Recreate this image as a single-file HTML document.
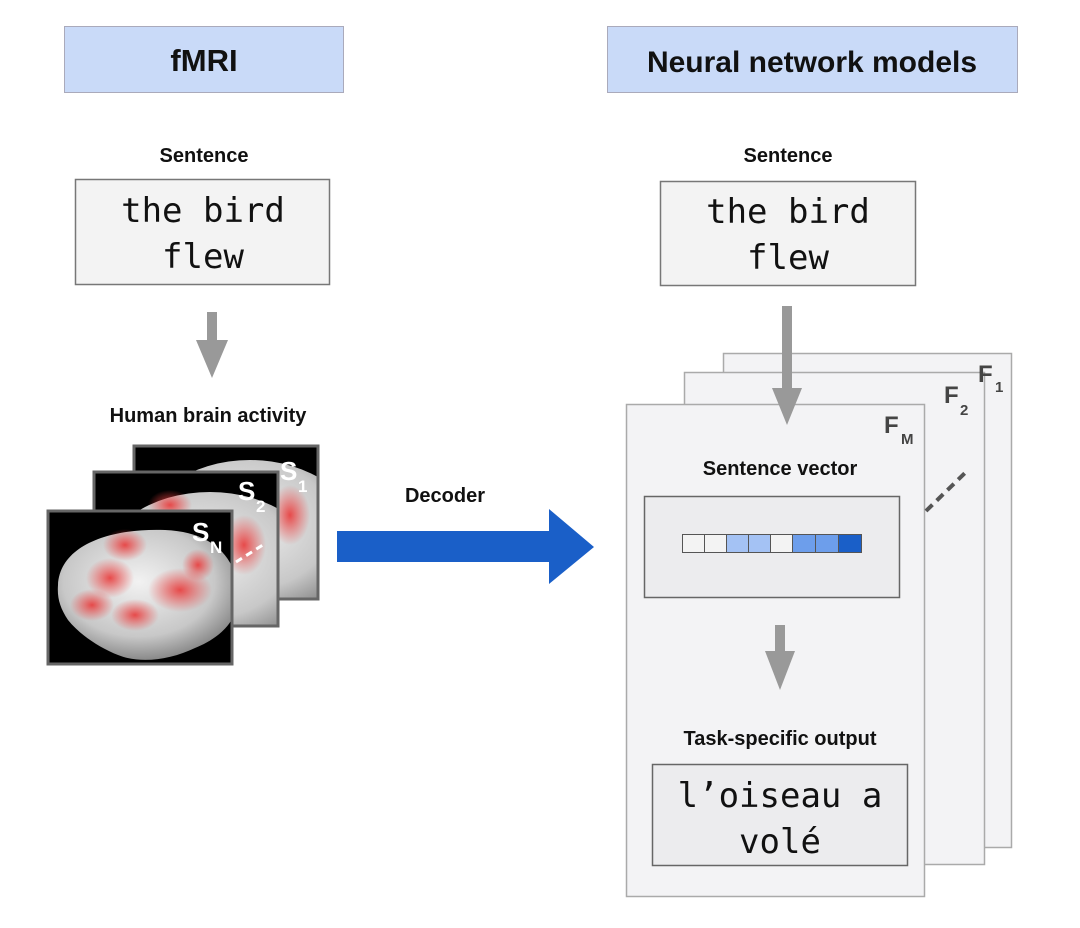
<!DOCTYPE html>
<html><head><meta charset="utf-8"><style>
html,body{margin:0;padding:0;background:#fff;width:1080px;height:928px;overflow:hidden}
svg{display:block}
.b{font-family:"Liberation Sans",sans-serif;font-weight:bold;fill:#111}
.m{font-family:"DejaVu Sans Mono","Liberation Mono",monospace;fill:#111}
</style></head><body>
<svg width="1080" height="928" viewBox="0 0 1080 928" xmlns="http://www.w3.org/2000/svg">
<defs>
<radialGradient id="br" cx="45%" cy="40%" r="60%"><stop offset="0" stop-color="#f2f2f2"/><stop offset="0.7" stop-color="#c8c8c8"/><stop offset="1" stop-color="#8a8a8a"/></radialGradient>
<radialGradient id="rd"><stop offset="0" stop-color="#e83a3a" stop-opacity="0.9"/><stop offset="1" stop-color="#ee4444" stop-opacity="0"/></radialGradient>
<clipPath id="c1"><rect x="134" y="446" width="184" height="153"/></clipPath>
<clipPath id="c2"><rect x="94" y="472" width="184" height="154"/></clipPath>
<clipPath id="c3"><rect x="48" y="511" width="184" height="153"/></clipPath>
</defs>
<rect x="64.5" y="26.5" width="279" height="66" fill="#c9daf8" stroke="#aab" />
<text x="204" y="71" text-anchor="middle" class="b" font-size="31">fMRI</text>
<rect x="607.5" y="26.5" width="410" height="66" fill="#c9daf8" stroke="#aab" />
<text x="812" y="72" text-anchor="middle" class="b" font-size="30">Neural network models</text>
<text x="204" y="162" text-anchor="middle" class="b" font-size="20">Sentence</text>
<rect x="75.5" y="179.5" width="254" height="105" fill="#f3f3f3" stroke="#777" stroke-width="1.5"/>
<text x="203" y="222" text-anchor="middle" class="m" font-size="34">the bird</text>
<text x="203" y="268" text-anchor="middle" class="m" font-size="34">flew</text>
<rect x="207" y="312" width="10" height="30" fill="#999"/>
<polygon points="196,340 228,340 212,378" fill="#999"/>
<text x="208" y="422" text-anchor="middle" class="b" font-size="20">Human brain activity</text>
<g>
<rect x="134" y="446" width="184" height="153" fill="#000"/>
<g clip-path="url(#c1)">
<ellipse cx="250" cy="540" rx="110" ry="80" fill="url(#br)"/>
<ellipse cx="290" cy="515" rx="20" ry="30" fill="url(#rd)"/>
</g>
<rect x="134" y="446" width="184" height="153" fill="none" stroke="#666" stroke-width="3"/>
<text x="280" y="480" class="b" font-size="26" style="fill:#fff">S</text><text x="298" y="492" class="b" font-size="17" style="fill:#fff">1</text>
</g>
<g>
<rect x="94" y="472" width="184" height="154" fill="#000"/>
<g clip-path="url(#c2)">
<ellipse cx="210" cy="570" rx="110" ry="78" fill="url(#br)"/>
<ellipse cx="170" cy="505" rx="22" ry="15" fill="url(#rd)"/>
<ellipse cx="244" cy="545" rx="22" ry="30" fill="url(#rd)"/>
</g>
<rect x="94" y="472" width="184" height="154" fill="none" stroke="#666" stroke-width="3"/>
<text x="238" y="500" class="b" font-size="26" style="fill:#fff">S</text><text x="256" y="512" class="b" font-size="17" style="fill:#fff">2</text>
</g>
<line x1="236" y1="562" x2="266" y2="543" stroke="#fff" stroke-width="3" stroke-dasharray="7,5"/>
<g>
<rect x="48" y="511" width="184" height="153" fill="#000"/>
<g clip-path="url(#c3)">
<path d="M58,585 C60,545 110,528 165,530 C215,532 240,560 238,600 C236,625 215,640 195,648 C170,660 140,664 118,655 C100,648 80,635 68,620 C60,608 57,598 58,585 Z" fill="url(#br)"/>
<ellipse cx="125" cy="545" rx="22" ry="16" fill="url(#rd)"/>
<ellipse cx="110" cy="578" rx="24" ry="20" fill="url(#rd)"/>
<ellipse cx="92" cy="605" rx="22" ry="16" fill="url(#rd)"/>
<ellipse cx="135" cy="615" rx="24" ry="16" fill="url(#rd)"/>
<ellipse cx="180" cy="590" rx="32" ry="22" fill="url(#rd)"/>
<ellipse cx="198" cy="565" rx="16" ry="16" fill="url(#rd)"/>
</g>
<rect x="48" y="511" width="184" height="153" fill="none" stroke="#666" stroke-width="3"/>
<text x="192" y="541" class="b" font-size="26" style="fill:#fff">S</text><text x="210" y="553" class="b" font-size="17" style="fill:#fff">N</text>
</g>
<text x="445" y="502" text-anchor="middle" class="b" font-size="20">Decoder</text>
<polygon points="337,531 549,531 549,509 594,547 549,584 549,562 337,562" fill="#1a5fc8"/>
<text x="788" y="162" text-anchor="middle" class="b" font-size="20">Sentence</text>
<rect x="660.5" y="181.5" width="255" height="104" fill="#f3f3f3" stroke="#777" stroke-width="1.5"/>
<text x="788" y="223" text-anchor="middle" class="m" font-size="34">the bird</text>
<text x="788" y="269" text-anchor="middle" class="m" font-size="34">flew</text>
<rect x="723.5" y="353.5" width="288" height="494" fill="#f3f3f5" stroke="#aaa" stroke-width="1.5"/>
<rect x="684.5" y="372.5" width="300" height="492" fill="#f3f3f5" stroke="#aaa" stroke-width="1.5"/>
<rect x="626.5" y="404.5" width="298" height="492" fill="#f3f3f5" stroke="#aaa" stroke-width="1.5"/>
<text x="978" y="382" class="b" font-size="24" style="fill:#444">F</text><text x="995" y="392" class="b" font-size="15" style="fill:#444">1</text>
<text x="944" y="403" class="b" font-size="24" style="fill:#444">F</text><text x="960" y="415" class="b" font-size="15" style="fill:#444">2</text>
<text x="884" y="433" class="b" font-size="24" style="fill:#444">F</text><text x="901" y="444" class="b" font-size="15" style="fill:#444">M</text>
<line x1="926" y1="511" x2="968" y2="470" stroke="#555" stroke-width="4" stroke-dasharray="9,6"/>
<rect x="782" y="306" width="10" height="84" fill="#999"/>
<polygon points="772,388 802,388 787,425" fill="#999"/>
<text x="780" y="475" text-anchor="middle" class="b" font-size="20">Sentence vector</text>
<rect x="644.5" y="496.5" width="255" height="101" fill="#ececee" stroke="#666" stroke-width="1.5"/>
<g stroke="#555" stroke-width="1">
<rect x="682.5" y="534.5" width="22" height="18" fill="#f3f3f3"/>
<rect x="704.5" y="534.5" width="22" height="18" fill="#f3f3f3"/>
<rect x="726.5" y="534.5" width="22" height="18" fill="#a4c2f4"/>
<rect x="748.5" y="534.5" width="22" height="18" fill="#a4c2f4"/>
<rect x="770.5" y="534.5" width="22" height="18" fill="#f3f3f3"/>
<rect x="792.5" y="534.5" width="23" height="18" fill="#6d9eeb"/>
<rect x="815.5" y="534.5" width="23" height="18" fill="#6d9eeb"/>
<rect x="838.5" y="534.5" width="23" height="18" fill="#1a5fc8"/>
</g>
<rect x="775" y="625" width="10" height="32" fill="#999"/>
<polygon points="765,651 795,651 780,690" fill="#999"/>
<text x="780" y="745" text-anchor="middle" class="b" font-size="20">Task-specific output</text>
<rect x="652.5" y="764.5" width="255" height="101" fill="#ececee" stroke="#666" stroke-width="1.5"/>
<text x="780" y="807" text-anchor="middle" class="m" font-size="34">l’oiseau a</text>
<text x="780" y="853" text-anchor="middle" class="m" font-size="34">volé</text>
</svg>
</body></html>
